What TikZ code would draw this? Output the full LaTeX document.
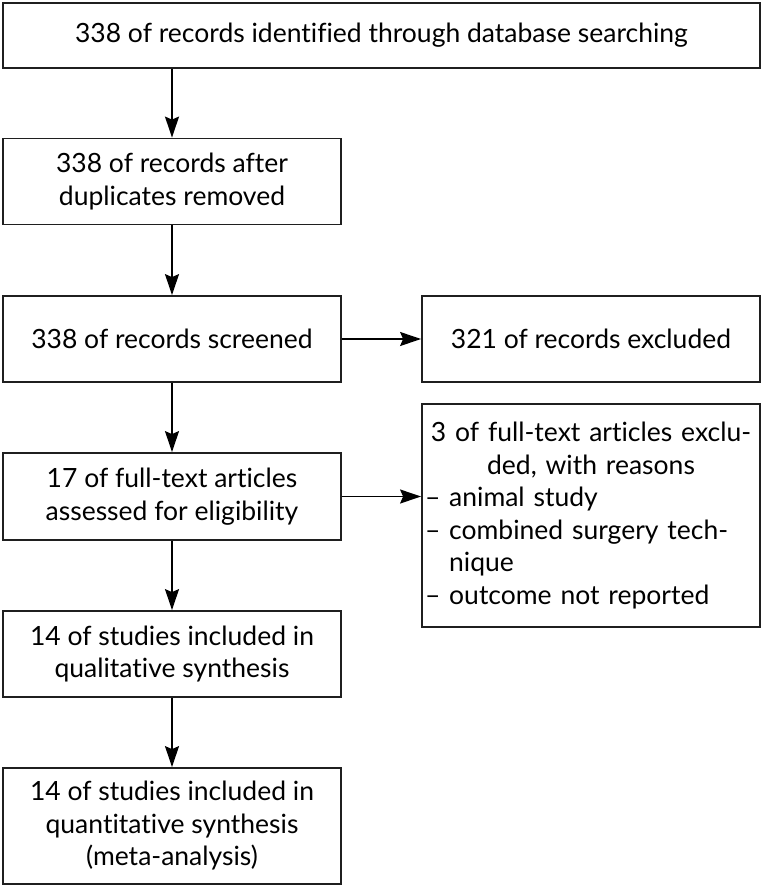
\documentclass[tikz,border=0pt]{standalone}
\usepackage{fontspec}
\setmainfont[Ligatures=NoCommon]{Lato}
\usetikzlibrary{arrows.meta}
\tikzset{
  box/.style={draw=black!88, line width=1.8pt, fill=white, align=center,
    inner sep=2pt, font=\fontsize{26.5}{32.5}\selectfont, anchor=center},
  conn/.style={draw=black, line width=1.6pt,
    -{Stealth[length=21pt,width=14pt,inset=3pt]}},
}
\begin{document}
\begin{tikzpicture}[x=1pt,y=-1pt]
\useasboundingbox (0,0) rectangle (763,886);
\node[box, minimum width=757pt, minimum height=65pt] (b1) at (381.5,35.5)
  {338 of records identified through database searching};
\node[box, minimum width=338pt, minimum height=86pt] (b2) at (172,181.5)
  {338 of records after\\duplicates removed};
\node[box, minimum width=338pt, minimum height=86pt] (b3) at (172,339)
  {338 of records screened};
\node[box, minimum width=338pt, minimum height=86pt] (b4) at (591,339)
  {321 of records excluded};
\node[box, minimum width=338pt, minimum height=87pt] (b5) at (172,496.5)
  {17 of full-text articles\\assessed for eligibility};
\node[box, minimum width=338pt, minimum height=223pt, text width=332pt, align=left] (b6) at (591,515.5)
  {\makebox[332pt][c]{3 of full-text articles exclu-}\\
   \makebox[332pt][c]{ded, with reasons}\\
   – animal study\\
   – combined surgery tech-\\
   \hphantom{– }nique\\
   – outcome not reported};
\node[box, minimum width=338pt, minimum height=86pt] (b7) at (172,654)
  {14 of studies included in\\qualitative synthesis};
\node[box, minimum width=338pt, minimum height=116pt] (b8) at (172,826)
  {14 of studies included in\\quantitative synthesis\\(meta-analysis)};
\draw[conn] (b1.south -| b2.north) -- (b2.north);
\draw[conn] (b2) -- (b3);
\draw[conn] (b3) -- (b4);
\draw[conn] (b3) -- (b5);
\draw[conn] (b5.east) -- (b5.east -| b6.west);
\draw[conn] (b5) -- (b7);
\draw[conn] (b7) -- (b8);
\end{tikzpicture}
\end{document}
